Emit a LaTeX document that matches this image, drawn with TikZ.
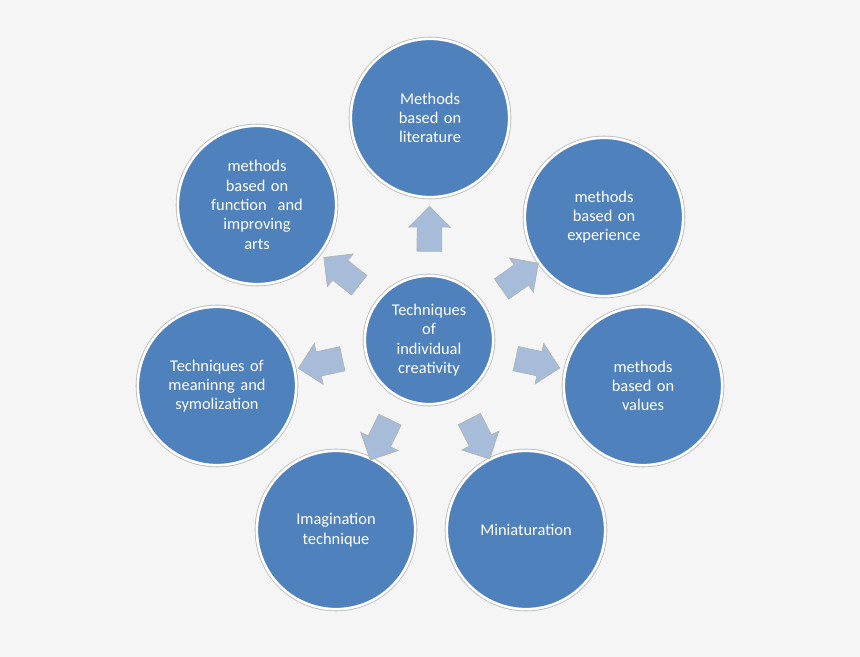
\documentclass[tikz,border=0pt]{standalone}
\usepackage{fontspec}
\setmainfont{Carlito}
\usetikzlibrary{shapes.arrows,calc}
\definecolor{bluefill}{HTML}{4F81BD}
\definecolor{arrowfill}{HTML}{A7BCD9}
\definecolor{bgcol}{HTML}{F5F5F5}
\begin{document}
\begin{tikzpicture}[x=0.03cm, y=-0.03cm,
    bubble/.style={circle, fill=bluefill, draw=white, line width=2.2pt,
      preaction={draw=gray!55, line width=3.6pt}, text=white,
      align=center, inner sep=0pt, font=\fontsize{14}{16.5}\selectfont},
    blockarrow/.style={single arrow, fill=arrowfill, draw=gray!60,
      line width=0.5pt, text height=0.36cm, text depth=0.36cm,
      minimum width=1.25cm, single arrow head extend=0.25cm,
      single arrow head indent=0pt, minimum height=1.35cm, inner sep=0pt,
      sloped, allow upside down}]

  % background
  \fill[bgcol] (0,0) rectangle (860,657);
  \useasboundingbox (0,0) rectangle (860,657);

  % hub
  \node[bubble, minimum size=3.85cm, text width=3cm] (c) at (429,340)
    {Techniques\\of\\individual\\creativity};

  % outer circles
  \node[bubble, minimum size=4.75cm, text width=3.3cm] (o1) at (430,118)
    {Methods\\based on\\literature};
  \node[bubble, minimum size=4.75cm, text width=3.3cm] (o2) at (604,217)
    {methods\\based on\\experience};
  \node[bubble, minimum size=4.75cm, text width=3.3cm] (o3) at (643,386)
    {methods\\based on\\values};
  \node[bubble, minimum size=4.75cm, text width=3.3cm] (o4) at (526,530)
    {Miniaturation};
  \node[bubble, minimum size=4.75cm, text width=3.3cm] (o5) at (336,530)
    {Imagination\\technique};
  \node[bubble, minimum size=4.75cm, text width=3.6cm] (o6) at (217,386)
    {Techniques of\\meaninng and\\symolization};
  \node[bubble, minimum size=4.75cm, text width=3.6cm] (o7) at (257,205)
    {methods\\based on\\function~ and\\improving\\arts};

  % arrows from hub
  \foreach \o in {o1,o2,o3,o4,o5,o6,o7}
    \path (c.center) -- ($(c.center)!3.15cm!(\o.center)$)
      node[blockarrow, pos=1] (a-\o) {};

\end{tikzpicture}
\end{document}
